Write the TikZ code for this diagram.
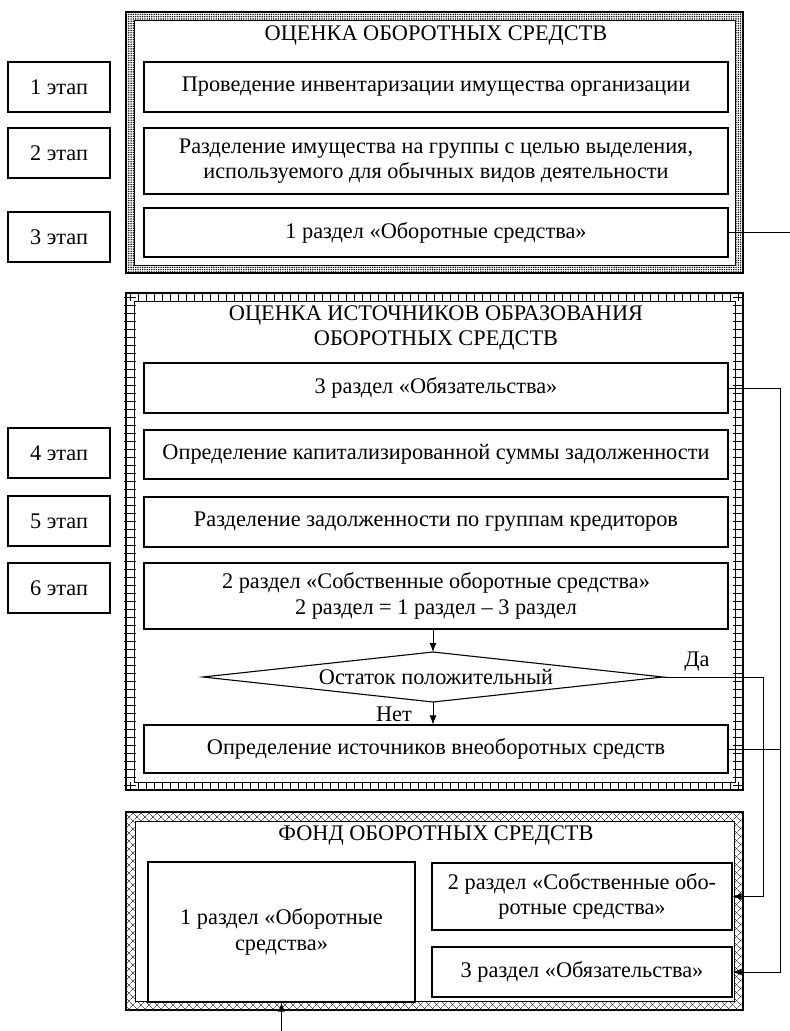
\documentclass[tikz,border=0pt]{standalone}
\usepackage{fontspec}
\setmainfont{Liberation Serif}
\usetikzlibrary{shapes.geometric,arrows.meta,patterns,patterns.meta,calc}
\begin{document}
\begin{tikzpicture}[x=1bp,y=-1bp,
  font=\fontsize{22.4}{25.5}\selectfont,
  box/.style={draw, line width=1.1bp, inner sep=0pt, align=center},
  etapbox/.style={box, minimum width=102bp, minimum height=50bp},
  wide/.style={box, minimum width=584bp},
  ttl/.style={inner sep=0pt, align=center},
  ln/.style={line width=0.9bp},
  arr/.style={line width=0.9bp, -{Latex[length=9bp,width=7bp]}}]
\useasboundingbox (0,0) rectangle (790,1031);

% ---------- frame A (stippled) ----------
\fill[pattern={Dots[radius=0.8bp,distance=2.3bp]}, even odd rule]
  (126,12) rectangle (743,273) (134,20) rectangle (735,265);
\draw[line width=1.3bp] (126,12) rectangle (743,273);
\draw[line width=0.5bp] (134,20) rectangle (735,265);

% ---------- frame B (ladder) ----------
\draw[line width=1.5bp] (126,293) rectangle (743,790);
\draw[line width=0.6bp] (134,301) rectangle (735,782);
\foreach \x in {130,138,...,740} {
  \draw[line width=0.6bp] (\x,293) -- (\x,301);
  \draw[line width=0.6bp] (\x,782) -- (\x,790);
}
\foreach \y in {297,305,...,786} {
  \draw[line width=0.6bp] (124,\y) -- (136,\y);
  \draw[line width=0.6bp] (733,\y) -- (743,\y);
}

% ---------- frame C (crosses) ----------
\fill[pattern={Lines[angle=45,distance=6bp,line width=0.5bp]}, even odd rule]
  (126,812) rectangle (743,1010) (135,821) rectangle (734,1001);
\fill[pattern={Lines[angle=-45,distance=6bp,line width=0.5bp]}, even odd rule]
  (126,812) rectangle (743,1010) (135,821) rectangle (734,1001);
\draw[line width=1.3bp] (126,812) rectangle (743,1010);
\draw[line width=0.5bp] (135,821) rectangle (734,1001);

% ---------- stage labels ----------
\node[etapbox] (e1) at (59,87)  {1 этап};
\node[etapbox] (e2) at (59,153) {2 этап};
\node[etapbox] (e3) at (59,237) {3 этап};
\node[etapbox] (e4) at (59,453) {4 этап};
\node[etapbox] (e5) at (59,521) {5 этап};
\node[etapbox] (e6) at (59,588) {6 этап};

% ---------- block A ----------
\node[ttl] (tA) at (436,35) {ОЦЕНКА ОБОРОТНЫХ СРЕДСТВ};
\node[wide, minimum height=50bp] (A1) at (436,87) {Проведение инвентаризации имущества организации};
\node[wide, minimum height=66bp] (A2) at (436,161) {Разделение имущества на группы с целью выделения,\\используемого для обычных видов деятельности};
\node[wide, minimum height=49bp] (A3) at (436,232.5) {1 раздел «Оборотные средства»};

% ---------- block B ----------
\node[ttl] (tB) at (436,328) {ОЦЕНКА ИСТОЧНИКОВ ОБРАЗОВАНИЯ\\ОБОРОТНЫХ СРЕДСТВ};
\node[wide, minimum height=50bp] (B1) at (436,388) {3 раздел «Обязательства»};
\node[wide, minimum height=49bp] (B2) at (436,454.5) {Определение капитализированной суммы задолженности};
\node[wide, minimum height=50bp] (B3) at (436,522) {Разделение задолженности по группам кредиторов};
\node[wide, minimum height=66bp] (B4) at (436,596) {2 раздел «Собственные оборотные средства»\\2 раздел = 1 раздел – 3 раздел};
\node[ttl] (D) at (436,677) {Остаток положительный};
\draw[line width=1.1bp] (203,677) coordinate (Dl) -- (433,652) coordinate (Dt)
  -- (663,677) coordinate (Dr) -- (433,702) coordinate (Db) -- cycle;
\node[wide, minimum height=48bp] (B5) at (436,749) {Определение источников внеоборотных средств};
\node[ttl] (da) at (697,662) {Да};
\node[ttl] (net) at (394,714) {Нет};

% ---------- block C ----------
\node[ttl] (tC) at (436,835) {ФОНД ОБОРОТНЫХ СРЕДСТВ};
\node[box, minimum width=267bp, minimum height=140bp] (C1) at (281.5,932) {1 раздел «Оборотные\\средства»};
\node[box, minimum width=300bp, minimum height=67bp] (C2) at (582,896.5) {2 раздел «Собственные обо-\\ротные средства»};
\node[box, minimum width=300bp, minimum height=50bp] (C3) at (582,972) {3 раздел «Обязательства»};

% ---------- connectors ----------
\coordinate (outA) at (790,232.5);
\draw[ln] (A3.east) -- (outA);
\draw[arr] (B4.south -| Dt) -- (Dt);
\draw[arr] (Db) -- (B5.north -| Db);
\coordinate (v1) at (780,388);
\coordinate (v2) at (763,677);
\draw[arr] (B1.east) -- (v1) |- (C3.east);
\draw[ln] (B5.east) -- (B5.east -| v1);
\draw[arr] (Dr) -- (v2) |- (C2.east);
\coordinate (inC) at (281.5,1031);
\draw[arr] (inC) -- (C1.south);
\end{tikzpicture}
\end{document}
